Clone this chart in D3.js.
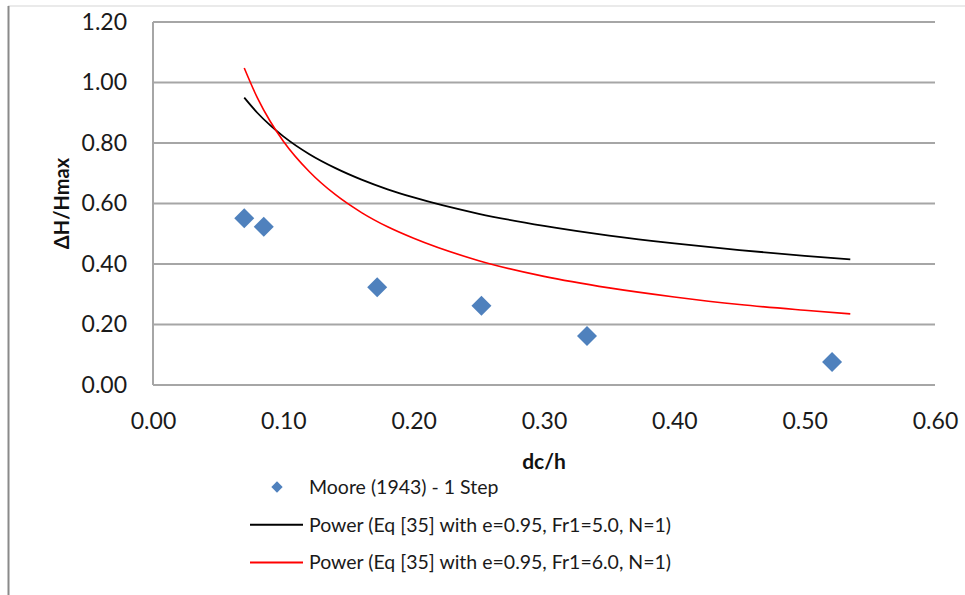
<!DOCTYPE html>
<html>
<head>
<meta charset="utf-8">
<script src="https://cdn.jsdelivr.net/npm/d3@7"></script>
<style>
  body { margin: 0; background: #fff; }
  svg { display: block; font-family: Lato, "Open Sans", sans-serif; }
</style>
</head>
<body>
<div id="chart"></div>
<script>
const mooreX = [0.070, 0.085, 0.172, 0.252, 0.333, 0.521];
const mooreY = [0.551, 0.523, 0.323, 0.262, 0.162, 0.076];

// trend curves, points
const curveX    = [0.07, 0.08, 0.09, 0.10, 0.12, 0.14, 0.16, 0.18, 0.20, 0.25, 0.30, 0.35, 0.40, 0.45, 0.50, 0.535];
const fr5Values = [0.950, 0.900, 0.858, 0.822, 0.763, 0.717, 0.679, 0.647, 0.620, 0.566, 0.526, 0.494, 0.468, 0.446, 0.427, 0.415];
const fr6Values = [1.048, 0.950, 0.871, 0.806, 0.705, 0.629, 0.570, 0.523, 0.485, 0.411, 0.359, 0.321, 0.291, 0.266, 0.247, 0.235];

const xTicks = [0, 0.1, 0.2, 0.3, 0.4, 0.5, 0.6];
const yTicks = [0, 0.2, 0.4, 0.6, 0.8, 1.0, 1.2];

const legendLabels = [
    "Moore (1943) - 1 Step",
    "Power (Eq [35] with e=0.95, Fr1=5.0, N=1)",
    "Power (Eq [35] with e=0.95, Fr1=6.0, N=1)"
];

let width = 965, height = 595;
let margin = {top: 22, right: 30, bottom: 210, left: 153};
let plotW = 935 - margin.left,
    plotH = 385 - margin.top;

let svg = d3.select("#chart").append("svg")
    .attr("width", width)
    .attr("height", height);

// outer frame remnants (top and left edge)
svg.append("line").attr("x1", 8).attr("x2", width).attr("y1", 6).attr("y2", 6)
    .attr("stroke", "#e3e3e3").attr("stroke-width", 1.5);
svg.append("line").attr("x1", 8.5).attr("x2", 8.5).attr("y1", 6).attr("y2", height)
    .attr("stroke", "#8a8a8a").attr("stroke-width", 2);

let xScale = d3.scaleLinear().domain([0, 0.6]).range([0, plotW]);
let yScale = d3.scaleLinear().domain([0, 1.2]).range([plotH, 0]);

let g = svg.append("g").attr("transform", `translate(${margin.left}, ${margin.top})`);

// horizontal gridlines
g.selectAll(".grid")
    .data(yTicks)
    .enter().append("line")
    .attr("class", "grid")
    .attr("x1", 0).attr("x2", plotW)
    .attr("y1", d => yScale(d)).attr("y2", d => yScale(d))
    .attr("stroke", "#a6a6a6").attr("stroke-width", 2);

// left axis line
g.append("line").attr("x1", 0).attr("x2", 0).attr("y1", 0).attr("y2", plotH)
    .attr("stroke", "#a6a6a6").attr("stroke-width", 2);

let yAxis = d3.axisLeft(yScale).tickValues(yTicks).tickFormat(d3.format(".2f")).tickSize(0).tickPadding(26);
let xAxis = d3.axisBottom(xScale).tickValues(xTicks).tickFormat(d3.format(".2f")).tickSize(0).tickPadding(28);

g.append("g").call(yAxis)
    .call(a => a.select(".domain").remove())
    .selectAll("text").attr("font-size", 23).attr("fill", "#1a1a1a").attr("font-family", "Lato, sans-serif");

g.append("g").attr("transform", `translate(0, ${plotH})`).call(xAxis)
    .call(a => a.select(".domain").remove())
    .selectAll("text").attr("font-size", 23).attr("fill", "#1a1a1a").attr("font-family", "Lato, sans-serif");

// axis titles
svg.append("text")
    .attr("transform", `translate(69, ${margin.top + plotH / 2}) rotate(-90)`)
    .attr("text-anchor", "middle")
    .attr("font-size", 20).attr("font-weight", "bold").attr("fill", "#111")
    .text("ΔH/Hmax");

svg.append("text")
    .attr("x", margin.left + plotW / 2).attr("y", 469)
    .attr("text-anchor", "middle")
    .attr("font-size", 21).attr("font-weight", "bold").attr("fill", "#111")
    .text("dc/h");

// trend curves
let line = d3.line()
    .x(d => xScale(d[0]))
    .y(d => yScale(d[1]))
    .curve(d3.curveMonotoneX);

g.append("path")
    .datum(curveX.map((x, i) => [x, fr5Values[i]]))
    .attr("d", line).attr("fill", "none")
    .attr("stroke", "#000").attr("stroke-width", 1.8);

g.append("path")
    .datum(curveX.map((x, i) => [x, fr6Values[i]]))
    .attr("d", line).attr("fill", "none")
    .attr("stroke", "#ff0000").attr("stroke-width", 1.6);

// data points
let diamond = d3.symbol().type(d3.symbolSquare).size(200);
g.selectAll(".pt")
    .data(mooreX.map((x, i) => [x, mooreY[i]]))
    .enter().append("path")
    .attr("class", "pt")
    .attr("d", diamond)
    .attr("transform", d => `translate(${xScale(d[0])}, ${yScale(d[1])}) rotate(45)`)
    .attr("fill", "#4f81bd");

// legend
let legend = svg.append("g").attr("transform", "translate(250, 487)");
let rowGap = 37.8;

legend.append("path")
    .attr("d", d3.symbol().type(d3.symbolSquare).size(64))
    .attr("transform", "translate(27, 0) rotate(45)")
    .attr("fill", "#4f81bd");

legend.append("line").attr("x1", 0).attr("x2", 53).attr("y1", rowGap).attr("y2", rowGap)
    .attr("stroke", "#000").attr("stroke-width", 2);
legend.append("line").attr("x1", 0).attr("x2", 53).attr("y1", rowGap * 2).attr("y2", rowGap * 2)
    .attr("stroke", "#ff0000").attr("stroke-width", 2);

legend.selectAll(".lg")
    .data(legendLabels)
    .enter().append("text")
    .attr("class", "lg")
    .attr("x", 59)
    .attr("y", (d, i) => i * rowGap)
    .attr("dy", "0.35em")
    .attr("font-size", 19.5).attr("fill", "#1a1a1a")
    .text(d => d);
</script>
</body>
</html>
